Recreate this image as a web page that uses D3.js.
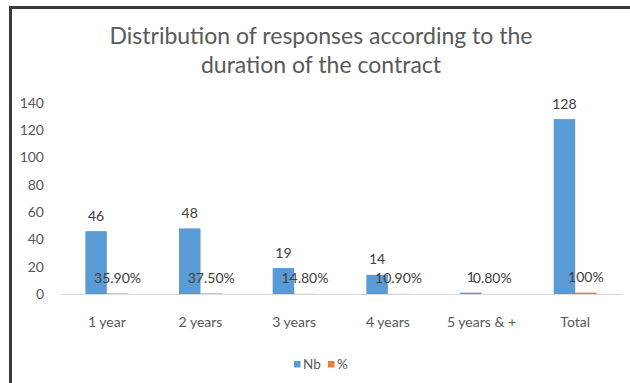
<!DOCTYPE html>
<html>
<head>
<meta charset="utf-8">
<script src="https://cdn.jsdelivr.net/npm/d3@7"></script>
<style>
  html, body { margin: 0; padding: 0; background: #fff; }
  svg { display: block; font-family: Lato, "Open Sans", sans-serif; }
</style>
</head>
<body>
<svg id="chart" width="630" height="383"></svg>
<script>
// Contract duration categories and the two series plotted per category
const categories = ["1 year", "2 years", "3 years", "4 years", "5 years & +", "Total"];
const nbValues = [46, 48, 19, 14, 1, 128];
const pctValues = [0.359, 0.375, 0.148, 0.109, 0.008, 1];
const seriesNames = ["Nb", "%"];
const yTicks = [0, 20, 40, 60, 80, 100, 120, 140];
const titleLines = ["Distribution of responses according to the", "duration of the contract"];

const colors = { "Nb": "#5B9BD5", "%": "#ED7D31" };
const textGray = "#595959";
const labelGray = "#404040";

const svg = d3.select("#chart");

// Frame lines along the top and left edges
svg.append("line").attr("x1", 9).attr("x2", 630).attr("y1", 7.5).attr("y2", 7.5)
  .attr("stroke", "#3a3a3a").attr("stroke-width", 3);
svg.append("line").attr("x1", 10.5).attr("x2", 10.5).attr("y1", 6).attr("y2", 383)
  .attr("stroke", "#3a3a3a").attr("stroke-width", 3);

// Title
svg.append("g").selectAll("text").data(titleLines).join("text")
  .attr("x", 321).attr("y", (d, i) => 43.5 + i * 29.5)
  .attr("text-anchor", "middle")
  .attr("font-size", 23).attr("font-weight", 400)
  .attr("fill", textGray)
  .text(d => d);

const plot = { left: 60, right: 622, top: 102.7, bottom: 294 };

const x = d3.scaleBand().domain(categories).range([plot.left, plot.right]).padding(0);
const x1 = d3.scaleBand().domain(seriesNames).range([0, x.bandwidth()])
  .paddingInner(0).paddingOuter(1.18);
const y = d3.scaleLinear().domain([0, 140]).range([plot.bottom, plot.top]);

// Y axis tick labels (no axis line or gridlines)
const yAxis = svg.append("g").attr("transform", `translate(${plot.left - 16},0)`)
  .call(d3.axisLeft(y).tickValues(yTicks).tickSize(0).tickPadding(0));
yAxis.select(".domain").remove();
yAxis.selectAll("text").attr("font-family", "Lato, sans-serif")
  .attr("font-size", 14).attr("fill", textGray);

// Category axis
const xAxis = svg.append("g").attr("transform", `translate(0,${plot.bottom})`)
  .call(d3.axisBottom(x).tickSize(0).tickPadding(0));
xAxis.select(".domain").attr("stroke", "#d9d9d9").attr("stroke-width", 1);
xAxis.selectAll("text").attr("font-family", "Lato, sans-serif")
  .attr("font-size", 14).attr("fill", textGray)
  .attr("dy", null).attr("y", 33);

function fmtPct(v) {
  return v === 1 ? d3.format(".0%")(v) : d3.format(".2%")(v);
}

const rows = categories.map((c, i) => ({
  cat: c,
  items: [
    { series: "Nb", value: nbValues[i], label: String(nbValues[i]) },
    { series: "%", value: pctValues[i], label: fmtPct(pctValues[i]) }
  ]
}));

const groups = svg.append("g").selectAll("g").data(rows).join("g")
  .attr("transform", d => `translate(${x(d.cat)},0)`);

groups.selectAll("rect").data(d => d.items).join("rect")
  .attr("x", d => x1(d.series))
  .attr("width", x1.bandwidth())
  .attr("y", d => y(d.value))
  .attr("height", d => y(0) - y(d.value))
  .attr("fill", d => colors[d.series]);

groups.selectAll("text.val").data(d => d.items).join("text")
  .attr("class", "val")
  .attr("x", d => x1(d.series) + x1.bandwidth() / 2)
  .attr("y", d => y(d.value) - 10.5)
  .attr("text-anchor", "middle")
  .attr("font-size", 14).attr("fill", labelGray)
  .text(d => d.label);

// Legend
const legend = svg.append("g").attr("transform", "translate(294,361)");
const legendItems = legend.selectAll("g").data(seriesNames).join("g")
  .attr("transform", (d, i) => `translate(${i * 34},0)`);
legendItems.append("rect").attr("width", 6.5).attr("height", 6.5)
  .attr("fill", d => colors[d]);
legendItems.append("text").attr("x", 9).attr("y", 8)
  .attr("font-size", 13.5).attr("fill", textGray).text(d => d);
</script>
</body>
</html>
